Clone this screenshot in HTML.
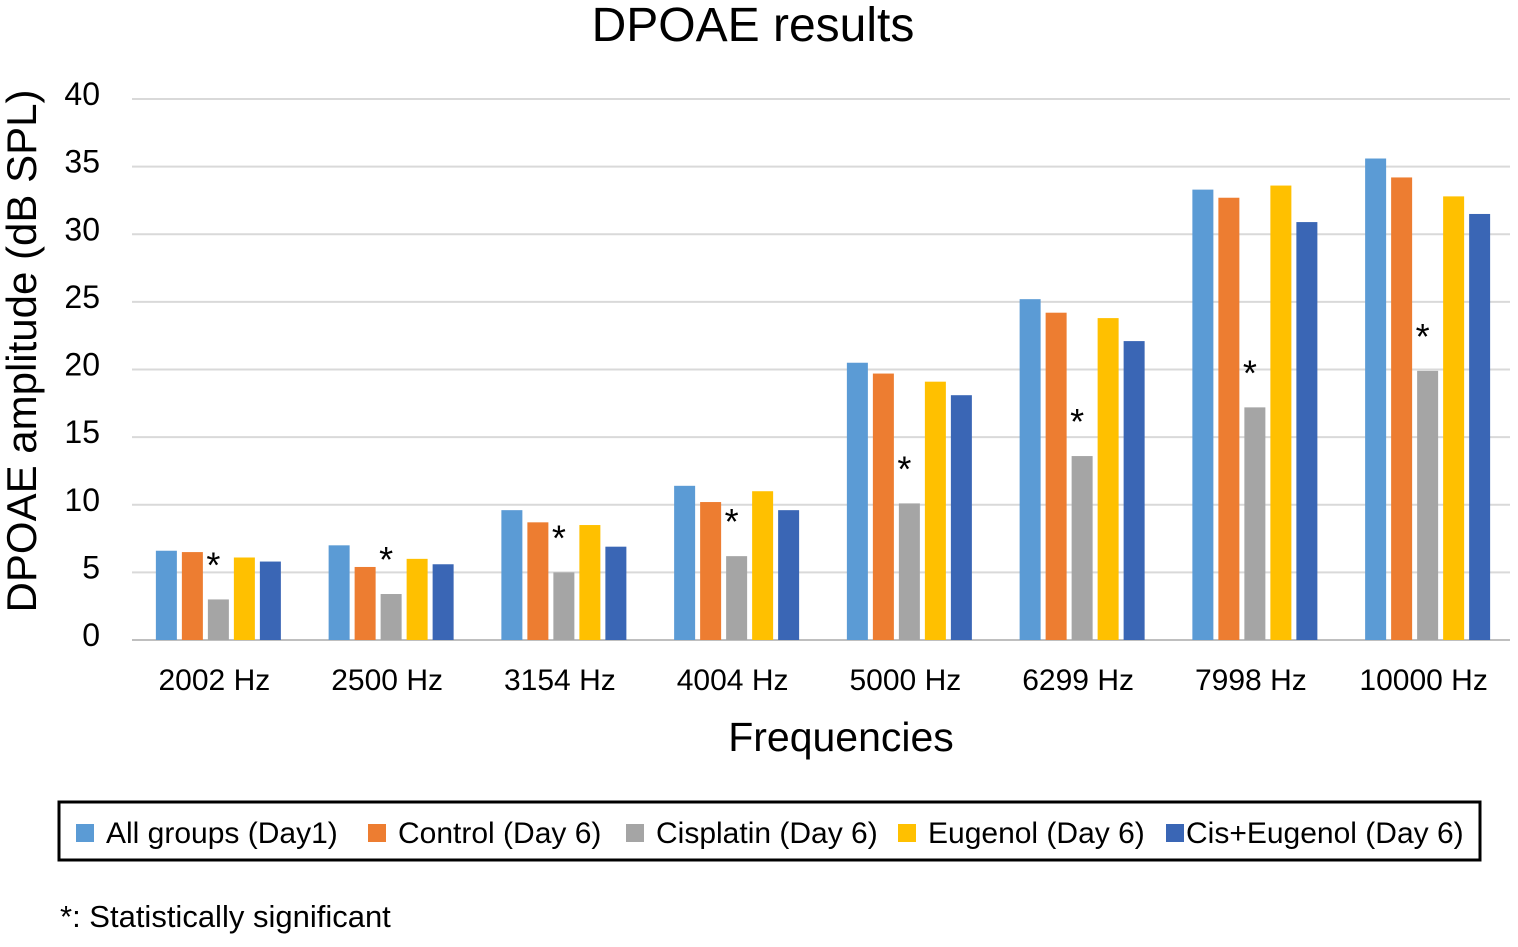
<!DOCTYPE html>
<html><head><meta charset="utf-8"><style>
body{margin:0;background:#fff;width:1518px;height:942px;overflow:hidden;font-family:"Liberation Sans",sans-serif}
</style></head><body>
<svg id="c" width="1518" height="942" xmlns="http://www.w3.org/2000/svg" font-family="Liberation Sans, sans-serif">
<text x="753" y="41" font-size="48" text-anchor="middle">DPOAE results</text>
<text transform="translate(36,351) rotate(-90)" font-size="42" text-anchor="middle">DPOAE amplitude (dB SPL)</text>
<text x="841" y="751" font-size="41" text-anchor="middle">Frequencies</text>
<g id="grid"></g><g id="bars"></g><g id="xlab"></g>
<rect x="59" y="802" width="1421" height="58" fill="none" stroke="#000" stroke-width="3"/>
<g id="legend"></g>
<text x="60" y="927" font-size="31">*: Statistically significant</text>
</svg>
<script>
const categories=["2002 Hz","2500 Hz","3154 Hz","4004 Hz","5000 Hz","6299 Hz","7998 Hz","10000 Hz"];
const seriesNames=["All groups (Day1)","Control (Day 6)","Cisplatin (Day 6)","Eugenol (Day 6)","Cis+Eugenol (Day 6)"];
const allGroups=[6.6,7.0,9.6,11.4,20.5,25.2,33.3,35.6];
const control=[6.5,5.4,8.7,10.2,19.7,24.2,32.7,34.2];
const cisplatin=[3.0,3.4,5.0,6.2,10.1,13.6,17.2,19.9];
const eugenol=[6.1,6.0,8.5,11.0,19.1,23.8,33.6,32.8];
const cisEugenol=[5.8,5.6,6.9,9.6,18.1,22.1,30.9,31.5];
const significant=[1,1,1,1,1,1,1,1];
const yTicks=[0,5,10,15,20,25,30,35,40];
const series=[allGroups,control,cisplatin,eugenol,cisEugenol];
const colors=["#5b9bd5","#ed7d31","#a5a5a5","#ffc000","#3a66b5"];
const NS="http://www.w3.org/2000/svg";
const X0=132,X1=1514,Y0=640,Y1=99,YMAX=40;
const y=v=>Y0-(v/YMAX)*(Y0-Y1);
const gw=(X1-X0)/categories.length;
const gx=i=>X0+gw*(i+0.5);
function mk(t,a,p){const e=document.createElementNS(NS,t);for(const k in a)e.setAttribute(k,a[k]);p.appendChild(e);return e;}
const grid=document.getElementById('grid'),bars=document.getElementById('bars'),xl=document.getElementById('xlab'),lg=document.getElementById('legend');
yTicks.forEach(t=>{
 const l=mk('line',{x1:X0,x2:1510,y1:y(t),y2:y(t),stroke:t===0?'#bfbfbf':'#d9d9d9','stroke-width':2},grid);
 
 
 const tx=mk('text',{x:100,y:y(t)+6,'font-size':32,'text-anchor':'end'},grid);
 tx.textContent=t;
 
 
});
const bw=21,step=26;
categories.forEach((c,i)=>{
 series.forEach((s,j)=>{
  const bx=gx(i)+(j-2)*step-bw/2;
  const r=mk('rect',{x:bx,y:y(s[i]),width:bw,height:Y0-y(s[i]),fill:colors[j]},bars);
  
  
 });
 if(significant[i]){
  const a=mk('text',{x:gx(i)-5,y:y(cisplatin[i])-22,'font-size':36,'text-anchor':'middle'},bars);
  a.textContent='*';
  
  
 }
 const t=mk('text',{x:gx(i)-4,y:690,'font-size':30,'text-anchor':'middle'},xl);
 t.textContent=c;
 
 
});
const lx=[76,368,626,898,1166];
seriesNames.forEach((n,j)=>{
 const g=mk('g',{},lg);
 
 
 mk('rect',{x:lx[j],y:824,width:18,height:18,fill:colors[j]},g);
 const t=mk('text',{x:lx[j]+(j===4?20:30),y:843,'font-size':30},g);
 t.textContent=n;
});
</script>
</body></html>
